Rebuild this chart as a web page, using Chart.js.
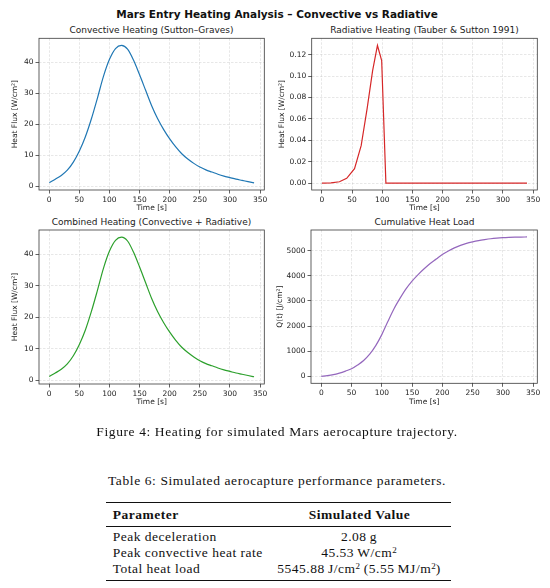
<!DOCTYPE html>
<html lang="en">
<head>
<meta charset="UTF-8" />
<title>Mars Entry Heating Analysis</title>
<style>
  body {
    margin: 0;
    width: 550px;
    height: 588px;
    position: relative;
    overflow: hidden;
    background: #fff;
    font-family: 'DejaVu Sans', sans-serif;
    color: #111;
  }
  .abs { position: absolute; white-space: nowrap; }
  .suptitle {
    left: 2px; width: 550px; top: 8px;
    text-align: center; font-weight: bold; font-size: 10.5px; line-height: 13px;
  }
  .sub { width: 275px; text-align: center; font-size: 9px; line-height: 12px; color: #222; }
  canvas { position: absolute; }
  .serif { font-family: 'Liberation Serif', serif; font-size: 13.5px; line-height: 16px; color: #111; letter-spacing: 0.5px; }
  .cap { letter-spacing: 0.6px; }
  .rule { position: absolute; left: 106px; width: 345px; background: #111; }
  sup { font-size: 9px; line-height: 0; vertical-align: 4px; letter-spacing: 0; }
</style>
</head>
<body>
  <div class="abs suptitle">Mars Entry Heating Analysis – Convective vs Radiative</div>

  <div class="abs sub" style="left:14px; top:24px;">Convective Heating (Sutton–Graves)</div>
  <div class="abs sub" style="left:287px; top:24px;">Radiative Heating (Tauber &amp; Sutton 1991)</div>
  <div class="abs sub" style="left:14px; top:216px;">Combined Heating (Convective + Radiative)</div>
  <div class="abs sub" style="left:287px; top:216px;">Cumulative Heat Load</div>

  <canvas id="convChart" width="275" height="200" style="left:0; top:20px;"></canvas>
  <canvas id="radChart" width="275" height="200" style="left:275px; top:20px;"></canvas>
  <canvas id="combChart" width="275" height="200" style="left:0; top:212px;"></canvas>
  <canvas id="loadChart" width="275" height="200" style="left:275px; top:212px;"></canvas>

  <div class="abs serif cap" style="left:0; width:554px; text-align:center; top:424px;">Figure 4: Heating for simulated Mars aerocapture trajectory.</div>
  <div class="abs serif cap" style="left:0; width:554px; text-align:center; top:473px;">Table 6: Simulated aerocapture performance parameters.</div>

  <div class="rule" style="top:501.7px; height:1.3px;"></div>
  <div class="abs serif" style="left:112.7px; top:507px; font-weight:bold;">Parameter</div>
  <div class="abs serif" style="left:259.5px; width:200px; text-align:center; top:507px; font-weight:bold;">Simulated Value</div>
  <div class="rule" style="top:525.9px; height:0.8px;"></div>
  <div class="abs serif" style="left:112.7px; top:529.3px;">Peak deceleration</div>
  <div class="abs serif" style="left:112.7px; top:545.3px;">Peak convective heat rate</div>
  <div class="abs serif" style="left:112.7px; top:561px;">Total heat load</div>
  <div class="abs serif" style="left:259px; width:200px; text-align:center; top:529.3px;">2.08&#8201;g</div>
  <div class="abs serif" style="left:259px; width:200px; text-align:center; top:545.3px;">45.53&#8201;W/cm<sup>2</sup></div>
  <div class="abs serif" style="left:259px; width:200px; text-align:center; top:561px;">5545.88&#8201;J/cm<sup>2</sup> (5.55&#8201;MJ/m<sup>2</sup>)</div>
  <div class="rule" style="top:579.9px; height:1.3px;"></div>

  <script src="https://cdn.jsdelivr.net/npm/chart.js"></script>
  <script>
    // Values
    const timeS = [0, 10, 20, 30, 40, 50, 60, 70, 80, 90, 100, 110, 120, 130, 140, 150, 160, 170,
                   180, 190, 200, 210, 220, 230, 240, 250, 260, 270, 280, 290, 300, 310, 320, 330, 340];
    const convectiveFlux = [1.2, 2.3, 3.5, 5.2, 7.8, 11.4, 16.0, 21.8, 28.5, 35.5, 41.0, 44.5, 45.53, 44.3,
                            40.7, 36.0, 31.0, 26.0, 21.8, 18.3, 15.3, 12.7, 10.5, 8.8, 7.4, 6.2, 5.3, 4.6,
                            3.9, 3.3, 2.8, 2.3, 1.9, 1.5, 1.1];
    const combinedFlux = [1.2, 2.3, 3.5, 5.2, 7.8, 11.4, 16.0, 21.9, 28.6, 35.6, 41.1, 44.5, 45.53, 44.3,
                          40.7, 36.0, 31.0, 26.0, 21.8, 18.3, 15.3, 12.7, 10.5, 8.8, 7.4, 6.2, 5.3, 4.6,
                          3.9, 3.3, 2.8, 2.3, 1.9, 1.5, 1.1];
    const cumulativeLoad = [0, 25, 65, 130, 210, 300, 450, 630, 880, 1220, 1660, 2180, 2680, 3100, 3480,
                            3790, 4050, 4280, 4490, 4670, 4850, 4990, 5110, 5210, 5290, 5350, 5400, 5440,
                            5475, 5500, 5518, 5530, 5538, 5543, 5546];
    const radTimeS = [0, 15, 29, 41, 54, 65, 75, 84, 92, 99, 106, 340];
    const radiativeFlux = [0, 0.0002, 0.0013, 0.0045, 0.0135, 0.035, 0.07, 0.105, 0.1285, 0.1145, 0, 0];

    const timeTicks = [0, 50, 100, 150, 200, 250, 300, 350];
    const fluxTicks = [0, 10, 20, 30, 40];
    const radTicks = [0, 0.02, 0.04, 0.06, 0.08, 0.10, 0.12];
    const loadTicks = [0, 1000, 2000, 3000, 4000, 5000];

    Chart.defaults.font.family = "'DejaVu Sans', sans-serif";

    const gridColor = 'rgba(176,176,176,0.5)';
    const inkColor = '#3a3a3a';

    // matplotlib-style frame round the plot area
    const boxPlugin = {
      id: 'box',
      afterDraw(chart) {
        const a = chart.chartArea, ctx = chart.ctx;
        ctx.save();
        ctx.strokeStyle = inkColor;
        ctx.lineWidth = 0.8;
        ctx.strokeRect(a.left, a.top, a.right - a.left, a.bottom - a.top);
        ctx.restore();
      }
    };

    function points(xs, ys) {
      return xs.map((x, i) => ({ x: x, y: ys[i] }));
    }

    function makePanel(id, p) {
      return new Chart(document.getElementById(id), {
        type: 'line',
        data: {
          datasets: [{
            data: points(p.x, p.y),
            borderColor: p.color,
            borderWidth: 1.2,
            pointRadius: 0,
            fill: false,
            tension: p.smooth ? 0.4 : 0,
            cubicInterpolationMode: p.smooth ? 'monotone' : 'default'
          }]
        },
        options: {
          responsive: false,
          animation: false,
          layout: { padding: { left: 0, top: p.top, right: p.right, bottom: p.bottom } },
          plugins: { legend: { display: false }, tooltip: { enabled: false } },
          scales: {
            x: {
              type: 'linear', min: -17, max: 357,
              afterBuildTicks: s => { s.ticks = timeTicks.map(v => ({ value: v })); },
              afterFit: s => { s.height = 23; },
              grid: { color: gridColor, lineWidth: 0.6, tickColor: inkColor, tickLength: 3.5, tickWidth: 0.8 },
              border: { display: false, dash: [2.5, 1.5] },
              ticks: { color: '#222', font: { size: 7.5 }, padding: 2, maxRotation: 0, autoSkip: false },
              title: { display: true, text: 'Time [s]', color: '#222', font: { size: 7.5 }, padding: 0 }
            },
            y: {
              min: p.yMin, max: p.yMax,
              afterBuildTicks: s => { s.ticks = p.yTicks.map(v => ({ value: v })); },
              afterFit: s => { s.width = p.yw; },
              grid: { color: gridColor, lineWidth: 0.6, tickColor: inkColor, tickLength: 3.5, tickWidth: 0.8 },
              border: { display: false, dash: [2.5, 1.5] },
              ticks: { color: '#222', font: { size: 7.5 }, padding: 2, autoSkip: false, callback: p.fmt },
              title: { display: true, text: p.yTitle, color: '#222', font: { size: 7.5 }, padding: { top: p.yTitlePad, bottom: 0 } }
            }
          }
        },
        plugins: [boxPlugin]
      });
    }

    makePanel('convChart', {
      x: timeS, y: convectiveFlux, color: '#1f77b4', smooth: true,
      yMin: -1.2, yMax: 47.8, yTicks: fluxTicks, fmt: v => String(v),
      yTitle: 'Heat Flux [W/cm²]', yTitlePad: 10.2, yw: 39,
      top: 18.3, right: 10.7, bottom: 7
    });

    makePanel('radChart', {
      x: radTimeS, y: radiativeFlux, color: '#d62728', smooth: false,
      yMin: -0.0064, yMax: 0.1352, yTicks: radTicks, fmt: v => v.toFixed(2),
      yTitle: 'Heat Flux [W/cm²]', yTitlePad: 2.5, yw: 36.7,
      top: 18.3, right: 12.7, bottom: 7
    });

    makePanel('combChart', {
      x: timeS, y: combinedFlux, color: '#2ca02c', smooth: true,
      yMin: -1.2, yMax: 47.8, yTicks: fluxTicks, fmt: v => String(v),
      yTitle: 'Heat Flux [W/cm²]', yTitlePad: 10.2, yw: 39,
      top: 18, right: 10.7, bottom: 5
    });

    makePanel('loadChart', {
      x: timeS, y: cumulativeLoad, color: '#9467bd', smooth: true,
      yMin: -277, yMax: 5823, yTicks: loadTicks, fmt: v => String(v),
      yTitle: 'Q(t) [J/cm²]', yTitlePad: 0.2, yw: 36,
      top: 18, right: 12.7, bottom: 5.7
    });
  </script>
</body>
</html>
